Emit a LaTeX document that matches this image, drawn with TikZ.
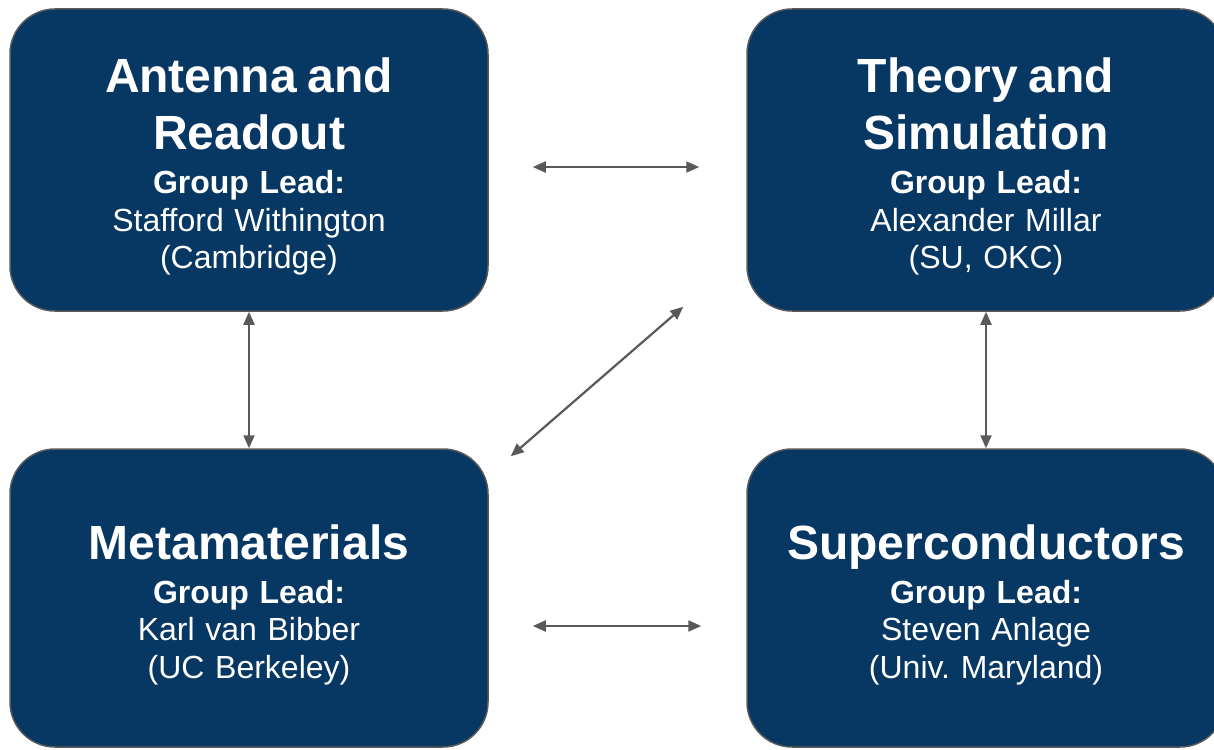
\documentclass[tikz,border=0pt]{standalone}
\usepackage{fontspec}
\setmainfont{Liberation Sans}
\usepackage[HTML]{xcolor}
\usepackage{tikz}
\usetikzlibrary{positioning, arrows, arrows.meta}

\definecolor{boxblue}{HTML}{073763}
\definecolor{linkgray}{HTML}{595959}

\newcommand{\grouphead}[1]{{\fontsize{24}{28.5}\selectfont\bfseries\rule{0pt}{24pt}#1\par}\vspace{3.25pt}}

\begin{document}
\frenchspacing
\begin{tikzpicture}[x=0.5pt,y=-0.5pt,
  group/.style={draw=linkgray, line width=0.75pt, fill=boxblue, rounded corners=22.5pt,
    text=white, align=center, text width=230pt, inner sep=0pt,
    font=\fontsize{16}{18.75}\selectfont},
  link/.style={draw=linkgray, line width=1.1pt,
    {Triangle[length=6.5pt,width=5.5pt]}-{Triangle[length=6.5pt,width=5.5pt]}}]
\useasboundingbox (0,0) rectangle (1214,749);
\clip (0,0) rectangle (1214,749);

% groups
\node[group, minimum width=239pt, minimum height=151pt] (ar) at (249,160)
  {\grouphead{Antenna and\\Readout}\textbf{Group Lead:}\\Stafford Withington\\(Cambridge)};
\node[group, minimum width=239pt, minimum height=151pt] (ts) at (986,160)
  {\grouphead{Theory and\\Simulation}\textbf{Group Lead:}\\Alexander Millar\\(SU, OKC)};
\node[group, minimum width=239pt, minimum height=149pt] (mm) at (249,598)
  {\grouphead{Metamaterials}\textbf{Group Lead:}\\Karl van Bibber\\(UC Berkeley)};
\node[group, minimum width=239pt, minimum height=149pt] (sc) at (986,598)
  {\grouphead{Superconductors}\textbf{Group Lead:}\\Steven Anlage\\(Univ. Maryland)};

% links
\draw[link] ([shift={(44,7)}]ar.east) -- ([shift={(-47,7)}]ts.west);
\draw[link] ([shift={(44,28)}]mm.east) -- ([shift={(-45,28)}]sc.west);
\draw[link] (ar.south) -- (mm.north);
\draw[link] (ts.south) -- (sc.north);
\draw[link] ([shift={(22,8)}]mm.north east) -- ([shift={(-63,-5)}]ts.south west);
\end{tikzpicture}
\end{document}
